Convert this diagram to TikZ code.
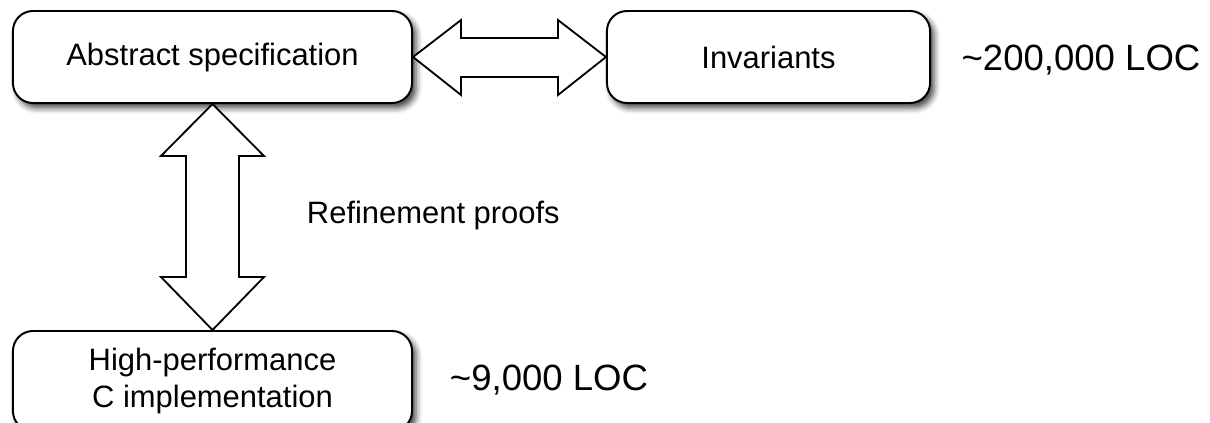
\documentclass[tikz,border=0pt]{standalone}
\usepackage{fontspec}
\setmainfont{Liberation Sans}
\usepackage{tikz}
\usetikzlibrary{calc,shadows.blur}

\tikzset{
  box/.style={draw, line width=1.4pt, rounded corners=0.5cm, fill=white,
    minimum height=2.3cm, align=center, font=\fontsize{22}{26.2}\selectfont,
    blur shadow={shadow xshift=0.1cm, shadow yshift=-0.12cm, shadow blur radius=0.15cm, shadow opacity=75}},
  bigarrow/.style={draw, line width=1.3pt, fill=white, line join=miter},
  loc/.style={font=\fontsize{26}{30}\selectfont},
}

\begin{document}
\begin{tikzpicture}[x=0.025cm, y=-0.025cm]
\useasboundingbox (0,0) rectangle (1210,422) ;

\node[box, minimum width=9.975cm] (abs) at (212.5,57) {Abstract specification} ;
\node[box, minimum width=8.075cm] (inv) at (768.5,57) {Invariants} ;
\node[box, minimum width=9.975cm, minimum height=2.5cm] (impl) at (212.5,381) {High-performance\\C implementation} ;

\draw[bigarrow] (abs.east) -- ++(48,-37) -- ++(0,18) -- ($(inv.west)+(-48,-19)$) -- ++(0,-18)
  -- (inv.west) -- ++(-48,38) -- ++(0,-18) -- ($(abs.east)+(48,20)$) -- ++(0,18) -- cycle ;
\draw[bigarrow] (abs.south) -- ++(51.5,52) -- ++(-25,0) -- ($(impl.north)+(26.5,-53)$) -- ++(25,0)
  -- (impl.north) -- ++(-51.5,-53) -- ++(25,0) -- ($(abs.south)+(-26.5,52)$) -- ++(-25,0) -- cycle ;

\node[font=\fontsize{22}{26}\selectfont, anchor=west] (proofs) at (302,215) {Refinement proofs} ;
\node[loc] (bigloc) at (1081,60) {\textasciitilde 200,000 LOC} ;
\node[loc] (smallloc) at (549,380) {\textasciitilde 9,000 LOC} ;
\end{tikzpicture}
\end{document}
